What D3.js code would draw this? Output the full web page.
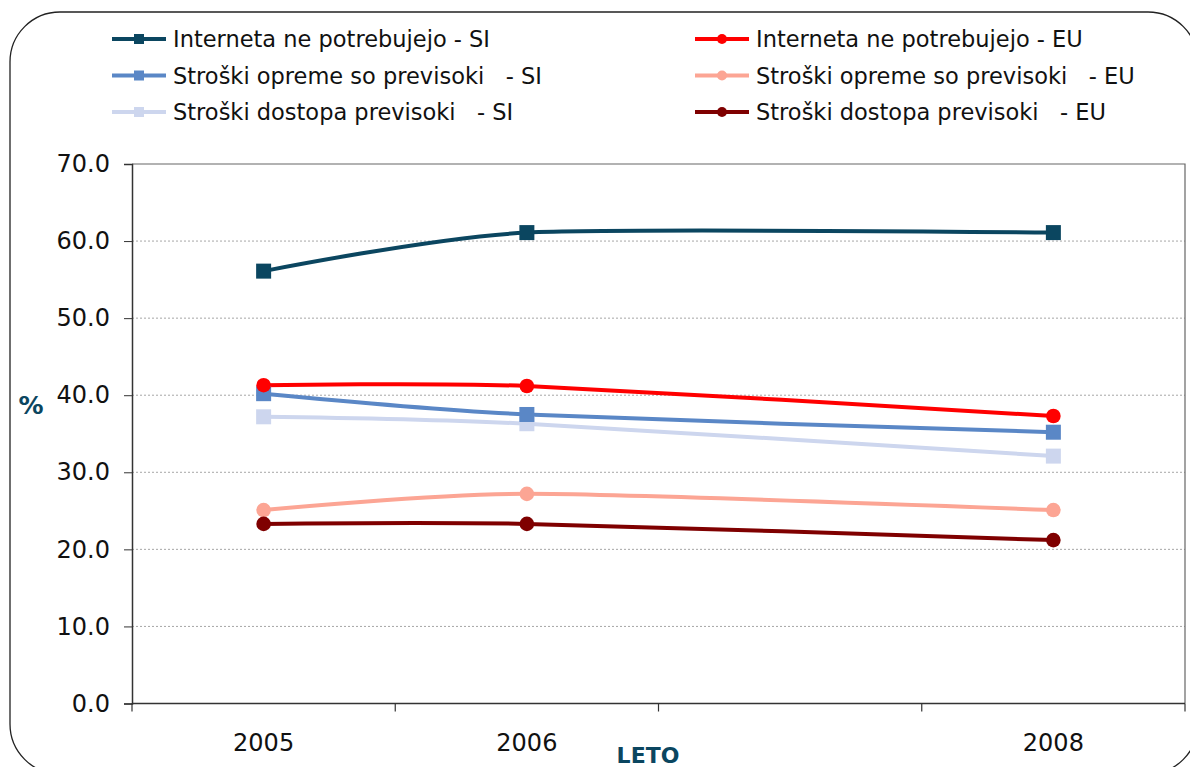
<!DOCTYPE html>
<html>
<head>
<meta charset="utf-8">
<script src="https://cdn.jsdelivr.net/npm/d3@7"></script>
<style>
  body { margin: 0; background: #fff; }
  svg text { font-family: "DejaVu Sans", Verdana, sans-serif; white-space: pre; }
</style>
</head>
<body>
<div class="chart"></div>
<script>
var values = { width: 1190, height: 767 };
var plot = { left: 132, right: 1185, top: 164, bottom: 703.5 };

// categories on the x axis (2007 has no data, label left empty)
var categories = ["2005", "2006", "2007", "2008"];
var tickLabels = ["2005", "2006", "", "2008"];
var years = ["2005", "2006", "2008"];

var seriesNames = [
  "Interneta ne potrebujejo - SI",
  "Stroški opreme so previsoki   - SI",
  "Stroški dostopa previsoki   - SI",
  "Interneta ne potrebujejo - EU",
  "Stroški opreme so previsoki   - EU",
  "Stroški dostopa previsoki   - EU"
];
var internetSI = [56.1, 61.1, 61.1];
var opremaSI = [40.2, 37.5, 35.2];
var dostopSI = [37.2, 36.3, 32.1];
var internetEU = [41.3, 41.2, 37.3];
var opremaEU = [25.1, 27.2, 25.1];
var dostopEU = [23.3, 23.3, 21.2];
var seriesValues = [internetSI, opremaSI, dostopSI, internetEU, opremaEU, dostopEU];
var seriesColors = ["#0b4660", "#5a87c6", "#cdd6ee", "#ff0000", "#fca594", "#7f0000"];
var seriesMarkers = ["square", "square", "square", "circle", "circle", "circle"];
var yTicks = [0, 10, 20, 30, 40, 50, 60, 70];

var series = seriesNames.map(function (name, i) {
  return {
    name: name,
    color: seriesColors[i],
    marker: seriesMarkers[i],
    points: years.map(function (yr, j) { return { year: yr, value: seriesValues[i][j] }; })
  };
});

var x = d3.scaleBand().domain(categories).range([plot.left, plot.right]).paddingInner(0).paddingOuter(0);
var y = d3.scaleLinear().domain([0, 70]).range([plot.bottom, plot.top]);

var svg = d3.select(".chart").append("svg")
  .attr("width", values.width)
  .attr("height", values.height);

// outer rounded frame
svg.append("rect")
  .attr("x", 10).attr("y", 12)
  .attr("width", 1188).attr("height", 762)
  .attr("rx", 50).attr("ry", 50)
  .attr("fill", "none")
  .attr("stroke", "#222")
  .attr("stroke-width", 1.3);

// gridlines
svg.append("g").selectAll("line")
  .data(yTicks.filter(function (d) { return d > 0 && d < 70; }))
  .enter().append("line")
  .attr("x1", plot.left).attr("x2", plot.right)
  .attr("y1", function (d) { return y(d); })
  .attr("y2", function (d) { return y(d); })
  .attr("stroke", "#a6a6a6")
  .attr("stroke-width", 1)
  .attr("stroke-dasharray", "2,2");

// plot area border (top + right)
svg.append("path")
  .attr("d", "M" + plot.left + "," + y(70) + "H" + plot.right + "V" + plot.bottom)
  .attr("fill", "none")
  .attr("stroke", "#666")
  .attr("stroke-width", 1.2);

// y axis
var yAxis = d3.axisLeft(y).tickValues(yTicks).tickFormat(d3.format(".1f")).tickSize(8).tickPadding(14);
var gy = svg.append("g")
  .attr("transform", "translate(" + plot.left + ",0)")
  .call(yAxis);
gy.select(".domain").attr("stroke", "#333").attr("stroke-width", 1.5);
gy.selectAll(".tick line").attr("stroke", "#333");
gy.selectAll(".tick text").attr("font-size", 24).attr("fill", "#111")
  .attr("font-family", "DejaVu Sans");

// x axis: labels centered in bands, ticks at band edges
svg.append("line")
  .attr("x1", plot.left).attr("x2", plot.right)
  .attr("y1", plot.bottom).attr("y2", plot.bottom)
  .attr("stroke", "#333").attr("stroke-width", 1.5);
var edges = categories.map(function (c) { return x(c); }).concat([x.range()[1]]);
svg.append("g").selectAll("line")
  .data(edges)
  .enter().append("line")
  .attr("x1", function (d) { return d; }).attr("x2", function (d) { return d; })
  .attr("y1", plot.bottom).attr("y2", plot.bottom + 8)
  .attr("stroke", "#333").attr("stroke-width", 1.2);
svg.append("g").selectAll("text")
  .data(categories)
  .enter().append("text")
  .attr("x", function (d) { return x(d) + x.bandwidth() / 2; })
  .attr("y", 751)
  .attr("text-anchor", "middle")
  .attr("font-size", 24)
  .attr("fill", "#111")
  .text(function (d, i) { return tickLabels[i]; });

// axis titles
svg.append("text")
  .attr("x", 31).attr("y", 414)
  .attr("text-anchor", "middle")
  .attr("font-size", 25).attr("font-weight", "bold")
  .attr("fill", "#0b4660")
  .text("%");
svg.append("text")
  .attr("x", 648).attr("y", 763)
  .attr("text-anchor", "middle")
  .attr("font-size", 22).attr("font-weight", "bold")
  .attr("fill", "#0b4660")
  .text("LETO");

// lines
var line = d3.line()
  .x(function (d) { return x(d.year) + x.bandwidth() / 2; })
  .y(function (d) { return y(d.value); })
  .curve(d3.curveCardinal.tension(0.3));

var drawOrder = [4, 5, 2, 1, 3, 0];
drawOrder.forEach(function (i) {
  var s = series[i];
  svg.append("path")
    .datum(s.points)
    .attr("d", line)
    .attr("fill", "none")
    .attr("stroke", s.color)
    .attr("stroke-width", 4);
});
drawOrder.forEach(function (i) {
  var s = series[i];
  var g = svg.append("g");
  if (s.marker === "square") {
    g.selectAll("rect").data(s.points).enter().append("rect")
      .attr("x", function (d) { return x(d.year) + x.bandwidth() / 2 - 7.5; })
      .attr("y", function (d) { return y(d.value) - 7.5; })
      .attr("width", 15).attr("height", 15)
      .attr("fill", s.color);
  } else {
    g.selectAll("circle").data(s.points).enter().append("circle")
      .attr("cx", function (d) { return x(d.year) + x.bandwidth() / 2; })
      .attr("cy", function (d) { return y(d.value); })
      .attr("r", 7.3)
      .attr("fill", s.color);
  }
});

// legend: two columns, SI left and EU right
var legend = svg.append("g");
series.forEach(function (s, i) {
  var col = Math.floor(i / 3), row = i % 3;
  var lx = col === 0 ? 112 : 695;
  var ly = 39 + row * 36.5;
  var g = legend.append("g").attr("transform", "translate(" + lx + "," + ly + ")");
  g.append("line").attr("x1", 0).attr("x2", 54).attr("y1", 0).attr("y2", 0)
    .attr("stroke", s.color).attr("stroke-width", 4);
  if (s.marker === "square") {
    g.append("rect").attr("x", 22).attr("y", -5).attr("width", 10).attr("height", 10).attr("fill", s.color);
  } else {
    g.append("circle").attr("cx", 27).attr("cy", 0).attr("r", 5).attr("fill", s.color);
  }
  g.append("text")
    .attr("x", 61).attr("y", 8)
    .attr("font-size", 22.5)
    .attr("fill", "#111")
    .text(s.name);
});
</script>
</body>
</html>
